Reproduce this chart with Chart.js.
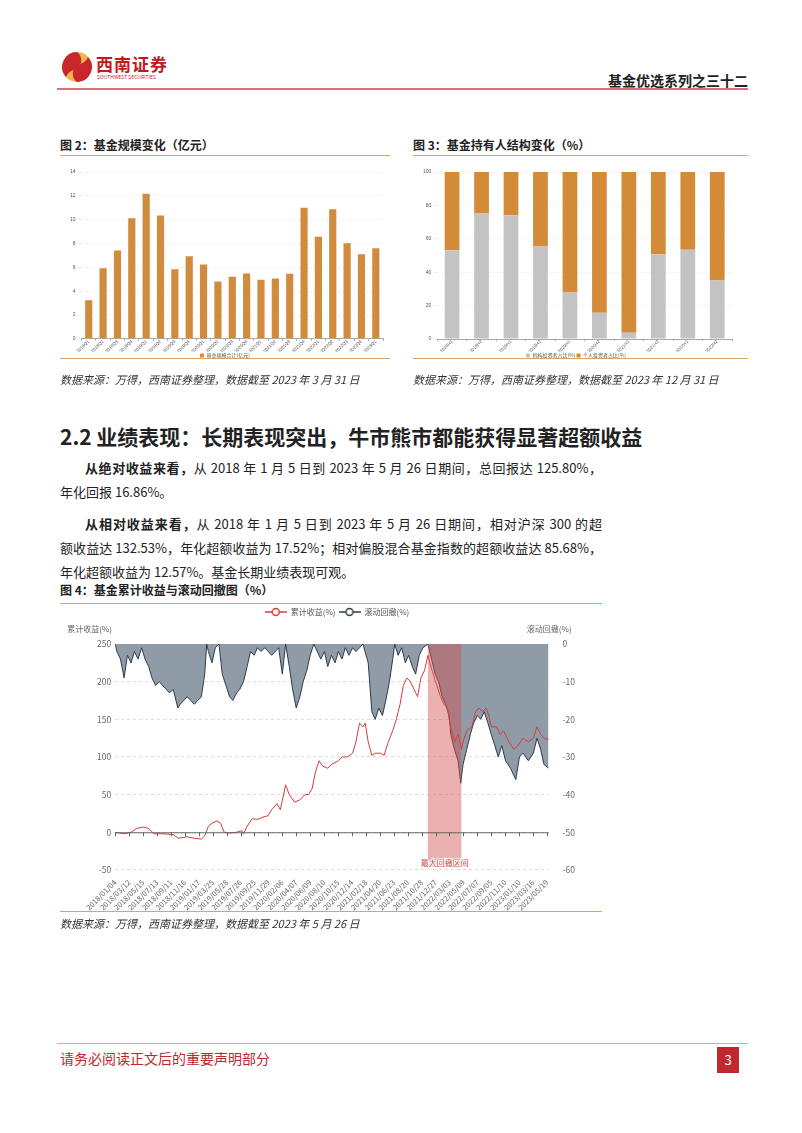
<!DOCTYPE html>
<html><head><meta charset="utf-8">
<script src="https://cdn.jsdelivr.net/npm/chart.js@4.4.0/dist/chart.umd.min.js"></script>
<style>
body{margin:0;background:#fff;font-family:"Noto Sans CJK SC","Noto Sans",sans-serif;color:#222;}
#page{position:relative;width:802px;height:1133px;overflow:hidden;background:#fff;}
.abs{position:absolute;white-space:nowrap;}
.rule{position:absolute;height:1px;background:#d9a360;}
.figt{position:absolute;font-size:12px;font-weight:bold;line-height:14px;white-space:nowrap;}
.src{position:absolute;font-size:11px;font-style:italic;color:#333;line-height:13px;white-space:nowrap;}
.para{position:absolute;font-size:13px;line-height:16px;text-align:justify;text-align-last:justify;white-space:nowrap;}
.box{position:absolute;}
</style></head>
<body><div id="page">
  <svg class="box" style="left:60px;top:50px" width="34" height="34" viewBox="0 0 34 34">
    <circle cx="17" cy="17" r="15" fill="#f2b54e"/>
    <path d="M17 2 A15 15 0 0 0 6 27 C9 19 17 21 20 15 C23 9 20 4 17 2Z" fill="#c9252c"/>
    <path d="M17 32 A15 15 0 0 0 28 7 C25 15 17 13 14 19 C11 25 14 30 17 32Z" fill="#c9252c"/>
  </svg>
  <div class="abs" style="left:96px;top:55px;font-size:17px;font-weight:bold;color:#c8161d;letter-spacing:1px;line-height:18px">西南证券</div>
  <div class="abs" style="left:97px;top:74px;font-size:5px;color:#c8161d;line-height:6px">SOUTHWEST SECURITIES</div>
  <div class="abs" style="left:608px;top:72px;font-size:14px;font-weight:bold;line-height:16px">基金优选系列之三十二</div>
  <div class="box" style="left:57px;top:88px;width:691px;height:2px;background:#d9707c"></div>

  <div class="figt" style="left:60px;top:138px">图 2：基金规模变化（亿元）</div>
  <div class="rule" style="left:60px;top:155px;width:330px"></div>
  <div class="box" style="left:60px;top:158px;width:330px;height:201px"><canvas id="c2"></canvas></div>
  <div class="rule" style="left:60px;top:358px;width:330px"></div>
  <div class="src" style="left:60px;top:373px">数据来源：万得，西南证券整理，数据截至 2023 年 3 月 31 日</div>

  <div class="figt" style="left:413px;top:138px">图 3：基金持有人结构变化（%）</div>
  <div class="rule" style="left:413px;top:155px;width:335px"></div>
  <div class="box" style="left:413px;top:158px;width:335px;height:201px"><canvas id="c3"></canvas></div>
  <div class="rule" style="left:413px;top:358px;width:335px"></div>
  <div class="src" style="left:413px;top:373px">数据来源：万得，西南证券整理，数据截至 2023 年 12 月 31 日</div>

  <div class="abs" style="left:60px;top:423px;font-size:21px;font-weight:bold;line-height:26px">2.2 业绩表现：长期表现突出，牛市熊市都能获得显著超额收益</div>

  <div class="para" style="left:85px;top:460px;width:517px"><b>从绝对收益来看，</b>从 2018 年 1 月 5 日到 2023 年 5 月 26 日期间，总回报达 125.80%，</div>
  <div class="abs" style="left:60px;top:484px;font-size:13px;line-height:16px">年化回报 16.86%。</div>
  <div class="para" style="left:85px;top:516px;width:517px"><b>从相对收益来看，</b>从 2018 年 1 月 5 日到 2023 年 5 月 26 日期间，相对沪深 300 的超</div>
  <div class="para" style="left:60px;top:540px;width:542px">额收益达 132.53%，年化超额收益为 17.52%；相对偏股混合基金指数的超额收益达 85.68%，</div>
  <div class="abs" style="left:60px;top:564px;font-size:13px;line-height:16px">年化超额收益为 12.57%。基金长期业绩表现可观。</div>

  <div class="figt" style="left:60px;top:583px">图 4：基金累计收益与滚动回撤图（%）</div>
  <div class="rule" style="left:60px;top:603px;width:542px"></div>
  <div class="box" style="left:60px;top:605px;width:542px;height:307px"><canvas id="c4"></canvas></div>
  <div class="rule" style="left:60px;top:911px;width:542px"></div>
  <div class="src" style="left:60px;top:917px">数据来源：万得，西南证券整理，数据截至 2023 年 5 月 26 日</div>

  <div class="box" style="left:57px;top:1043px;width:691px;height:1px;background:#e3a0a6"></div>
  <div class="abs" style="left:60px;top:1050px;font-size:14px;color:#c0282d;line-height:16px">请务必阅读正文后的重要声明部分</div>
  <div class="box" style="left:717px;top:1047px;width:22px;height:26px;background:#c0282d;color:#fff;font-size:13px;text-align:center;line-height:26px">3</div>
</div>
<script>
// 图2 基金规模
const quarters = ['2018Q1','2018Q2','2018Q3','2018Q4','2019Q1','2019Q2','2019Q3','2019Q4','2020Q1','2020Q2','2020Q3','2020Q4','2021Q1','2021Q2','2021Q3','2021Q4','2022Q1','2022Q2','2022Q3','2022Q4','2023Q1'];
const fundSize = [3.24,5.92,7.41,10.11,12.17,10.34,5.83,6.93,6.23,4.82,5.21,5.49,4.96,5.07,5.46,11.01,8.56,10.87,8.03,7.10,7.61];

// 图3 持有人结构
const halves = ['2018H1','2018H2','2019H1','2019H2','2020H1','2020H2','2021H1','2021H2','2022H1','2022H2'];
const instShare = [53.2,75.1,74.1,55.4,27.9,15.7,3.8,50.8,53.4,35.1];
const retailShare = [46.8,24.9,25.9,44.6,72.1,84.3,96.2,49.2,46.6,64.9];

// 图4 累计收益与滚动回撤（x 为交易日序号）
const dateLabels = ['2018/01/04','2018/03/12','2018/05/15','2018/07/13','2018/09/11','2018/11/16','2019/01/17','2019/03/25','2019/05/28','2019/07/26','2019/09/25','2019/11/29','2020/02/06','2020/04/07','2020/06/09','2020/08/10','2020/10/15','2020/12/14','2021/02/18','2021/04/20','2021/06/23','2021/08/20','2021/10/28','2021/12/27','2022/03/03','2022/05/09','2022/07/07','2022/09/05','2022/11/10','2023/01/10','2023/03/16','2023/05/19'];
const labelStep = 42;
const lastDay = 1307;
const retDays = [0,27,48,64,85,101,117,143,175,191,217,239,260,270,281,292,307,318,329,345,366,382,387,398,413,429,445,461,472,488,498,504,514,525,541,557,572,583,594,604,615,625,641,652,673,684,700,716,726,737,747,754,763,774,784,800,811,822,837,848,859,869,880,890,901,912,922,933,943,949,959,970,981,991,1002,1007,1012,1023,1034,1044,1049,1060,1076,1087,1097,1108,1118,1127,1134,1150,1161,1171,1187,1203,1214,1230,1246,1261,1272,1283,1293,1307];
const retValues = [0,-2,0,5,7,5,-2,-2,-3,-8,-6,-8,-9,-5,8,12,15,12,0,-1,0,2,-2,8,18,17,20,22,30,38,30,42,63,50,40,43,50,50,58,80,95,88,85,90,95,100,100,105,120,145,140,145,120,102,105,105,102,118,135,150,170,195,205,200,190,180,205,215,235,225,210,195,180,170,165,150,140,120,130,110,120,135,140,160,165,160,165,155,140,140,130,135,120,110,115,125,120,125,140,130,125,123];
const ddDays = [0,5,16,27,37,48,58,69,80,90,101,111,122,133,143,154,164,175,189,196,207,217,228,239,249,260,270,276,281,292,302,313,323,334,345,355,366,376,387,398,408,419,429,440,451,472,493,504,514,525,535,546,557,567,578,588,599,620,631,641,652,663,673,684,694,705,716,726,737,747,763,774,784,795,806,816,827,837,843,853,864,875,885,896,906,917,928,943,954,965,975,986,996,1007,1012,1023,1034,1042,1049,1060,1071,1081,1092,1102,1113,1124,1134,1145,1155,1166,1177,1192,1208,1219,1230,1246,1261,1272,1283,1293,1307];
const ddValues = [0,-2,-4,-9,-3,-5,-2,-4,-1,-4,-6,-9,-11,-10,-11,-12,-13,-12,-17,-16,-15,-14,-15,-16,-15,-14,-8,0,-2,-5,-1,0,-8,-11,-14,-15,-13,-12,-10,-6,-2,-3,-1,-2,-1,-3,-1,-8,0,-6,-12,-17,-14,-10,-7,-3,0,-4,-2,-6,-3,-5,-2,-4,-1,-3,-1,-2,-1,0,-5,-18,-20,-17,-19,-15,-10,-4,0,-3,-1,-5,-3,-6,-8,-3,-1,0,-4,-8,-10,-14,-16,-19,-24,-28,-31,-37,-32,-28,-24,-21,-19,-20,-18,-21,-24,-27,-30,-27,-31,-33,-36,-30,-29,-31,-29,-25,-28,-32,-33];
const maxDDRange = [943, 1044];

const tickFont = {family: 'Liberation Sans, Arial, sans-serif', size: 5};
const xTickFont = {family: 'Liberation Sans, Arial, sans-serif', size: 4.5};
const cjkFont = {family: '"Noto Sans CJK SC", sans-serif', size: 5};

// fixes the legend box height so the plot sits where the reference has it
const legendHeight = h => ({
    id: 'legendHeight',
    beforeLayout(chart) {
        const lg = chart.legend;
        if (lg && !lg._fixed) {
            const fit = lg.fit;
            lg.fit = function () { fit.call(this); this.height = h; };
            lg._fixed = true;
        }
    }
});

function barOptions(pad, yMax, yStep, stacked) {
    return {
        responsive: true, maintainAspectRatio: false, animation: false,
        layout: {padding: pad},
        plugins: {
            legend: {position: 'bottom', labels: {boxWidth: 4, boxHeight: 4, font: cjkFont, color: '#555', padding: 1}},
            tooltip: {enabled: false}
        },
        scales: {
            x: {stacked, grid: {display: true, drawOnChartArea: false, tickLength: 2, color: '#aaa'}, border: {color: '#aaa'},
                ticks: {font: xTickFont, color: '#555', maxRotation: 45, minRotation: 45, autoSkip: false, padding: -2}},
            y: {stacked, min: 0, max: yMax, ticks: {stepSize: yStep, font: tickFont, color: '#555', padding: 3},
                grid: {color: '#eee', tickLength: 3}, border: {display: false, dash: [2, 2]}}
        }
    };
}

new Chart(document.getElementById('c2'), {
    type: 'bar',
    data: {
        labels: quarters,
        datasets: [{label: '基金规模合计(亿元)', data: fundSize, backgroundColor: '#d08b3e', barPercentage: 0.5, categoryPercentage: 1}]
    },
    options: barOptions({left: 7, right: 7, top: 14, bottom: 0}, 14, 2, false),
    plugins: [legendHeight(7)]
});

new Chart(document.getElementById('c3'), {
    type: 'bar',
    data: {
        labels: halves,
        datasets: [
            {label: '机构投资者占比(%)', data: instShare, backgroundColor: '#c3c3c3', barPercentage: 0.5, categoryPercentage: 1},
            {label: '个人投资者占比(%)', data: retailShare, backgroundColor: '#d38b38', barPercentage: 0.5, categoryPercentage: 1}
        ]
    },
    options: barOptions({left: 7, right: 16, top: 14, bottom: 0}, 100, 20, true),
    plugins: [legendHeight(7)]
});

function legendIcon(color) {
    const c = document.createElement('canvas');
    c.width = 22; c.height = 10;
    const g = c.getContext('2d');
    g.strokeStyle = color; g.lineWidth = 1.5;
    g.beginPath(); g.moveTo(0, 5); g.lineTo(22, 5); g.stroke();
    g.fillStyle = '#fff';
    g.beginPath(); g.arc(11, 5, 3.5, 0, Math.PI * 2); g.fill(); g.stroke();
    return c;
}

const retColor = '#d63c3c';
const ddColor = '#2e3d4d';

const c4Extras = {
    id: 'c4Extras',
    afterDatasetsDraw(chart) {
        const {ctx, chartArea: a, scales} = chart;
        const x0 = scales.x.getPixelForValue(maxDDRange[0]);
        const x1 = scales.x.getPixelForValue(maxDDRange[1]);
        ctx.save();
        ctx.fillStyle = 'rgba(210,80,80,0.45)';
        ctx.fillRect(x0, a.top, x1 - x0, a.bottom - a.top - 3);
        // zero axis line with ticks
        const y0 = scales.y.getPixelForValue(0);
        ctx.strokeStyle = '#666'; ctx.lineWidth = 1;
        ctx.beginPath(); ctx.moveTo(a.left, y0 + 0.5); ctx.lineTo(a.right, y0 + 0.5); ctx.stroke();
        scales.x.ticks.forEach(t => {
            const px = Math.round(scales.x.getPixelForValue(t.value)) + 0.5;
            ctx.beginPath(); ctx.moveTo(px, y0); ctx.lineTo(px, y0 + 4); ctx.stroke();
        });
        ctx.font = '8px "Noto Sans CJK SC", sans-serif';
        ctx.textAlign = 'center'; ctx.textBaseline = 'middle';
        ctx.lineWidth = 2; ctx.strokeStyle = '#fff';
        ctx.strokeText('最大回撤区间', (x0 + x1) / 2, a.bottom - 7);
        ctx.fillStyle = '#d04545';
        ctx.fillText('最大回撤区间', (x0 + x1) / 2, a.bottom - 7);
        ctx.fillStyle = '#666';
        ctx.textAlign = 'left';
        ctx.fillText('累计收益(%)', a.left - 48, a.top - 15);
        ctx.textAlign = 'right';
        ctx.fillText('滚动回撤(%)', a.right + 23, a.top - 15);
        ctx.restore();
    }
};

new Chart(document.getElementById('c4'), {
    type: 'line',
    data: {
        datasets: [
            {label: '累计收益(%)', data: retDays.map((d, i) => ({x: d, y: retValues[i]})), yAxisID: 'y',
             borderColor: retColor, borderWidth: 1, pointRadius: 0, tension: 0, fill: false},
            {label: '滚动回撤(%)', data: ddDays.map((d, i) => ({x: d, y: ddValues[i]})), yAxisID: 'y1',
             borderColor: ddColor, borderWidth: 1, pointRadius: 0, tension: 0, fill: 'end', backgroundColor: '#8f9ba6'}
        ]
    },
    options: {
        responsive: true, maintainAspectRatio: false, animation: false,
        layout: {padding: {left: 33, right: 21, top: 0, bottom: 0}},
        plugins: {
            legend: {position: 'top', labels: {
                usePointStyle: true, pointStyleWidth: 22, boxHeight: 10, color: '#555', padding: 3,
                font: {family: '"Noto Sans CJK SC", sans-serif', size: 8},
                generateLabels: chart => chart.data.datasets.map((ds, i) => ({
                    text: ds.label, pointStyle: legendIcon(ds.borderColor), fillStyle: '#fff',
                    strokeStyle: ds.borderColor, lineWidth: 0, datasetIndex: i, fontColor: '#555'
                }))
            }},
            tooltip: {enabled: false}
        },
        scales: {
            x: {type: 'linear', min: 0, max: lastDay,
                grid: {display: false}, border: {display: false},
                ticks: {stepSize: labelStep, includeBounds: false, autoSkip: false, maxRotation: 45, minRotation: 45,
                        font: {family: '"Noto Sans CJK SC", sans-serif', size: 7.5}, color: '#666', padding: 0,
                        callback: v => dateLabels[Math.round(v / labelStep)] || ''}},
            y: {position: 'left', min: -50, max: 250,
                ticks: {stepSize: 50, font: {family: '"Noto Sans CJK SC", sans-serif', size: 8.5}, color: '#666', padding: 4},
                grid: {color: '#dcdcdc', drawTicks: false}, border: {display: false, dash: [3, 3]}},
            y1: {position: 'right', min: -60, max: 0,
                ticks: {stepSize: 10, font: {family: '"Noto Sans CJK SC", sans-serif', size: 8.5}, color: '#666', padding: 6},
                grid: {display: false}, border: {display: false}}
        }
    },
    plugins: [c4Extras, legendHeight(39)]
});
</script>
</body></html>
